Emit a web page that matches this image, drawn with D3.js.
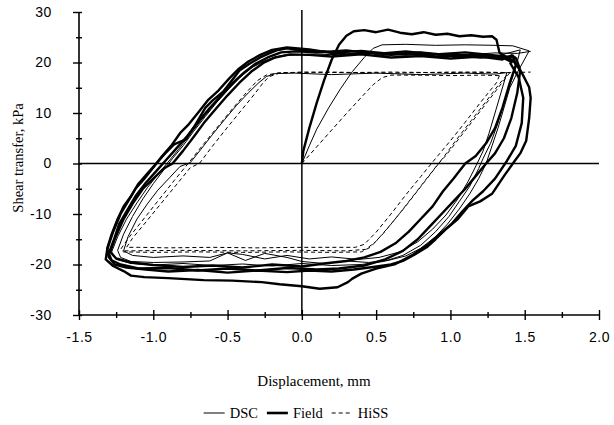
<!DOCTYPE html>
<html>
<head>
<meta charset="utf-8">
<script src="https://cdn.jsdelivr.net/npm/d3@7"></script>
<style>
  body { margin: 0; background: #fff; }
  svg { display: block; }
</style>
</head>
<body>
<div id="wrapper"></div>
<script>
// Tick values
const xTicks = [-1.5, -1.0, -0.5, 0.0, 0.5, 1.0, 1.5, 2.0];
const yTicks = [-30, -20, -10, 0, 10, 20, 30];
const xMinorTicks = [-1.25, -0.75, -0.25, 0.25, 0.75, 1.25, 1.75];
const yMinorTicks = [-25, -15, -5, 5, 15, 25];
const seriesNames = ["DSC", "Field", "HiSS"];

// Field (thick line): first loading then cycles
const fieldInitial = [[0,0],[0.01,2.5],[0.05,7],[0.1,12],[0.15,16.5],[0.2,20.5],[0.25,23.5],[0.3,25.3],[0.35,26.2],[0.42,26.4],[0.5,26.0],[0.58,26.5],[0.66,25.9],[0.74,25.6],[0.82,26.0],[0.9,25.5],[0.98,25.7],[1.06,25.2],[1.14,25.4],[1.22,25.1],[1.28,25.2],[1.31,24.5],[1.33,22.0],[1.38,21.0]];
const fieldLoop1 = [[1.42,20.5],[1.48,18],[1.53,15.1],[1.54,13],[1.53,9],[1.51,4.5],[1.47,2],[1.42,0],[1.36,-2.5],[1.28,-6],[1.2,-7.5],[1.12,-8.5],[1.05,-11],[0.97,-13],[0.9,-15],[0.84,-16.6],[0.76,-18],[0.68,-19.3],[0.6,-20],[0.48,-20.5],[0.35,-21],[0.2,-21.4],[0.05,-21.2],[-0.1,-21.5],[-0.3,-21.2],[-0.5,-21.6],[-0.7,-21.1],[-0.9,-21.4],[-1.05,-21],[-1.18,-20.6],[-1.26,-20],[-1.3,-18.5],[-1.31,-16.8],[-1.28,-14],[-1.24,-11],[-1.2,-8.5],[-1.15,-6.5],[-1.1,-4],[-1.04,-2],[-0.98,0],[-0.92,2],[-0.86,3.8],[-0.78,4.8],[-0.72,7.5],[-0.65,11],[-0.6,12.5],[-0.53,14.2],[-0.47,16.5],[-0.42,18.4],[-0.35,19.8],[-0.28,21],[-0.22,21.8],[-0.17,22.4],[-0.1,22.8],[0,22.4],[0.15,22.2],[0.3,21.6],[0.45,22.0],[0.6,21.5],[0.75,21.8],[0.9,21.2],[1.05,21.4],[1.2,21.0],[1.32,21.2],[1.42,20.5]];
const fieldLoop2 = [[1.40,20],[1.46,17],[1.49,13],[1.48,8],[1.44,3.5],[1.38,0.5],[1.3,-3],[1.22,-5.5],[1.15,-7.3],[1.08,-9.5],[1.01,-11.9],[0.92,-14.2],[0.84,-16.2],[0.74,-18.2],[0.63,-19.9],[0.5,-20.8],[0.4,-21.8],[0.34,-22.8],[0.31,-23.5],[0.24,-24.5],[0.12,-24.8],[0,-24.3],[-0.15,-23.9],[-0.27,-23.5],[-0.47,-23.2],[-0.66,-23.1],[-0.9,-22.7],[-1.06,-22.5],[-1.15,-22.2],[-1.2,-21.3],[-1.27,-20.3],[-1.32,-19.0],[-1.31,-17],[-1.27,-13.5],[-1.22,-10],[-1.17,-7.5],[-1.12,-5],[-1.06,-3],[-1.0,-0.8],[-0.94,1.5],[-0.88,3.5],[-0.82,6],[-0.76,7.8],[-0.7,10],[-0.63,12.6],[-0.56,14.5],[-0.49,16.8],[-0.43,18.6],[-0.36,20.2],[-0.28,21.5],[-0.2,22.5],[-0.1,23],[0.05,22.6],[0.2,21.9],[0.4,22.3],[0.6,21.7],[0.8,22],[1.0,21.4],[1.2,21.5],[1.35,21],[1.42,20]];
const fieldLoop3 = [[1.42,21.5],[1.44,19.5],[1.4,16],[1.35,11],[1.3,7],[1.24,4],[1.17,1.5],[1.1,0],[1.02,-3],[0.95,-5.5],[0.88,-8.5],[0.8,-11],[0.72,-13.5],[0.63,-15.8],[0.53,-17.5],[0.42,-18.6],[0.3,-19.3],[0.15,-19.8],[0,-20.4],[-0.2,-20],[-0.4,-20.6],[-0.6,-20.2],[-0.8,-20.5],[-1.0,-20.1],[-1.15,-19.6],[-1.25,-18.8],[-1.29,-17.5],[-1.26,-15],[-1.2,-11],[-1.14,-8],[-1.07,-5],[-1.0,-3],[-0.93,-1],[-0.87,0],[-0.8,2.5],[-0.73,5.2],[-0.66,8],[-0.58,10.8],[-0.5,13.5],[-0.42,16],[-0.34,18.2],[-0.26,19.9],[-0.18,21],[-0.08,21.6],[0.05,21.5],[0.2,21.2],[0.4,21.6],[0.6,21],[0.8,21.3],[1.0,20.8],[1.2,21.2],[1.35,20.6],[1.42,21.5]];
const fieldLoop4 = [[1.44,21],[1.47,18.5],[1.45,14],[1.41,9],[1.36,5],[1.3,2],[1.24,0],[1.17,-2.5],[1.1,-5],[1.02,-7.5],[0.94,-10],[0.86,-12.5],[0.78,-15],[0.68,-17.3],[0.56,-19],[0.42,-20.2],[0.25,-20.8],[0.1,-21],[-0.1,-20.7],[-0.3,-21.2],[-0.5,-20.8],[-0.7,-21.2],[-0.9,-20.7],[-1.1,-20.8],[-1.22,-20],[-1.28,-19.2],[-1.3,-17.8],[-1.27,-15.5],[-1.23,-12],[-1.18,-9.5],[-1.12,-6.5],[-1.05,-3.8],[-0.98,-1.5],[-0.92,0.5],[-0.85,2.8],[-0.77,5.5],[-0.69,8.5],[-0.62,11],[-0.55,13.2],[-0.47,15.8],[-0.39,18],[-0.31,19.8],[-0.23,21],[-0.14,22],[-0.04,22.2],[0.1,22],[0.3,22.4],[0.5,21.7],[0.7,22.2],[0.9,21.6],[1.1,22],[1.3,21.4],[1.44,21]];

// DSC (thin line)
const dscInitial = [[0,0],[0.05,3.5],[0.1,6.8],[0.18,11],[0.26,14.8],[0.34,18.2],[0.42,21],[0.48,22.8],[0.54,23.5],[0.7,23.6],[0.9,23.4],[1.1,23.5],[1.3,23.4],[1.42,23.3],[1.53,22.3]];
const dscLoop1 = [[1.53,22.3],[1.45,18],[1.4,15],[1.36,11],[1.32,7],[1.28,3.5],[1.24,0],[1.19,-3],[1.13,-6],[1.06,-9],[0.98,-12],[0.9,-14.5],[0.8,-16.8],[0.7,-18.3],[0.58,-19.2],[0.45,-19.6],[0.3,-19.3],[0.15,-19.8],[0,-19.4],[-0.1,-18.6],[-0.25,-17.8],[-0.38,-19.2],[-0.5,-17.7],[-0.62,-19.3],[-0.8,-19.5],[-1.0,-19.6],[-1.15,-19.4],[-1.22,-18.6],[-1.24,-17.2],[-1.2,-14],[-1.14,-10.5],[-1.07,-7],[-1.0,-4],[-0.93,-1.3],[-0.87,1],[-0.8,3.5],[-0.73,6.3],[-0.65,9.3],[-0.57,12.2],[-0.49,14.8],[-0.41,17.2],[-0.33,19.1],[-0.25,20.3],[-0.16,21.2],[-0.05,21.5],[0.1,21.7],[0.3,21.5],[0.5,21.9],[0.7,21.4],[0.9,21.8],[1.1,21.5],[1.3,21.9],[1.45,21.8],[1.54,22.2]];
const dscLoop2 = [[1.38,18],[1.34,14],[1.3,10],[1.26,6],[1.22,2.5],[1.18,0],[1.12,-3.5],[1.05,-7],[0.97,-10.2],[0.88,-13],[0.78,-15.5],[0.66,-17.5],[0.52,-18.6],[0.38,-19],[0.2,-18.5],[0.05,-18.9],[-0.1,-18.2],[-0.25,-18.9],[-0.4,-18],[-0.5,-17.7],[-0.62,-18.6],[-0.8,-18.3],[-1.0,-18.6],[-1.14,-18.2],[-1.2,-17.3],[-1.17,-14.5],[-1.11,-11],[-1.04,-8],[-0.97,-5.3],[-0.89,-2.8],[-0.82,-0.6],[-0.75,0.2],[-0.68,2.8],[-0.6,5.8],[-0.52,8.7],[-0.44,11.5],[-0.36,14],[-0.29,16],[-0.24,17.2],[-0.18,17.8],[-0.05,17.9],[0.2,17.6],[0.5,17.9],[0.8,17.6],[1.1,17.9],[1.3,17.7],[1.38,18]];
const dscLoop3 = [[1.47,22.5],[1.44,19],[1.4,15.5],[1.36,12],[1.32,8],[1.27,4],[1.22,1],[1.19,-1],[1.13,-4.5],[1.06,-7.5],[0.99,-10.5],[0.9,-13.5],[0.8,-16.2],[0.68,-18.2],[0.55,-19.4],[0.4,-20],[0.2,-20.2],[0,-19.8],[-0.2,-20.3],[-0.4,-19.9],[-0.6,-20.2],[-0.8,-19.8],[-1.0,-20.1],[-1.15,-19.8],[-1.25,-19],[-1.28,-17.5],[-1.24,-14.5],[-1.18,-11],[-1.11,-7.8],[-1.04,-4.8],[-0.97,-2.2],[-0.9,0.3],[-0.83,2.8],[-0.76,5.5],[-0.68,8.5],[-0.6,11.3],[-0.52,14],[-0.44,16.5],[-0.36,18.6],[-0.28,20],[-0.19,21],[-0.09,21.6],[0.1,21.4],[0.3,21.9],[0.5,21.3],[0.7,21.7],[0.9,21.2],[1.1,21.6],[1.3,21.2],[1.47,22.5]];

// HiSS (dashed line)
const hissInitial = [[0,0],[0.1,3.3],[0.2,6.6],[0.3,9.9],[0.4,13.1],[0.48,15.6],[0.54,17],[0.6,17.5],[0.8,17.5],[1.0,17.4],[1.2,17.5],[1.33,17.4]];
const hissLoop1 = [[1.33,17.4],[1.31,16],[1.2,12],[1.1,8.2],[1.0,4.5],[0.9,1],[0.8,-2.6],[0.7,-6.2],[0.6,-10],[0.5,-13.6],[0.42,-16],[0.36,-16.6],[0.2,-16.6],[0,-16.6],[-0.3,-16.7],[-0.6,-16.6],[-0.9,-16.7],[-1.1,-16.6],[-1.18,-16.6],[-1.14,-14.8],[-1.05,-11.6],[-0.95,-8],[-0.85,-4.4],[-0.75,-0.8],[-0.69,0],[-0.6,3.5],[-0.5,7.2],[-0.4,10.8],[-0.32,13.7],[-0.26,16],[-0.22,17.2],[-0.15,17.9],[0,18.1],[0.3,18],[0.6,18.1],[0.9,18],[1.2,18.1],[1.4,18],[1.54,18.1]];
const hissLoop2 = [[1.4,18],[1.36,16.5],[1.27,13],[1.17,9.2],[1.07,5.4],[0.97,1.6],[0.92,0],[0.85,-2.6],[0.75,-6.4],[0.65,-10.2],[0.55,-13.8],[0.46,-16.6],[0.4,-17.5],[0.2,-17.6],[-0.1,-17.5],[-0.4,-17.6],[-0.7,-17.5],[-1.0,-17.6],[-1.2,-17.5],[-1.22,-17],[-1.16,-14.5],[-1.06,-10.8],[-0.96,-7.1],[-0.86,-3.4],[-0.76,0.2],[-0.66,3.9],[-0.56,7.5],[-0.46,11.1],[-0.36,14.5],[-0.3,16.4],[-0.24,17.5],[-0.15,18],[0.2,18.1],[0.6,17.9],[1.0,18.1],[1.4,18]];
const hissLoop3 = [[1.38,17.5],[1.33,15.8],[1.24,12.3],[1.14,8.5],[1.04,4.7],[0.96,1.5],[0.9,-0.8],[0.8,-4.6],[0.7,-8.4],[0.6,-12],[0.5,-15.4],[0.43,-17],[0.3,-17.3],[0,-17.2],[-0.4,-17.3],[-0.8,-17.2],[-1.2,-17.3]];

async function drawChart() {
  const dimensions = {
    width: 614,
    height: 425,
    margins: { top: 12, right: 15, bottom: 110, left: 79 },
  };
  dimensions.boundedWidth =
    dimensions.width - dimensions.margins.left - dimensions.margins.right;
  dimensions.boundedHeight =
    dimensions.height - dimensions.margins.top - dimensions.margins.bottom;

  const sansFont = "'Liberation Sans', Arial, sans-serif";
  const serifFont = "'Liberation Serif', 'Times New Roman', serif";

  const wrapper = d3
    .select("#wrapper")
    .append("svg")
    .attr("width", dimensions.width)
    .attr("height", dimensions.height);

  const bounds = wrapper
    .append("g")
    .attr("transform", `translate(${dimensions.margins.left}, ${dimensions.margins.top})`);

  // Scales
  const xScale = d3.scaleLinear().domain([-1.5, 2.0]).range([0, dimensions.boundedWidth]);
  const yScale = d3.scaleLinear().domain([-30, 30]).range([dimensions.boundedHeight, 0]);

  // Zero lines
  bounds.append("line")
    .attr("x1", xScale(0)).attr("x2", xScale(0))
    .attr("y1", -2).attr("y2", dimensions.boundedHeight)
    .attr("stroke", "#000").attr("stroke-width", 1.5);
  bounds.append("line")
    .attr("x1", 0).attr("x2", dimensions.boundedWidth)
    .attr("y1", yScale(0)).attr("y2", yScale(0))
    .attr("stroke", "#000").attr("stroke-width", 1.5);

  // Data lines
  const lineGenerator = d3.line()
    .x((d) => xScale(d[0]))
    .y((d) => yScale(d[1]));

  const hissPaths = [hissInitial, hissLoop1, hissLoop2, hissLoop3];
  const dscPaths = [dscInitial, dscLoop1, dscLoop2, dscLoop3];
  const fieldPaths = [fieldInitial, fieldLoop1, fieldLoop2, fieldLoop3, fieldLoop4];

  bounds.append("g").selectAll("path").data(hissPaths).enter().append("path")
    .attr("d", lineGenerator)
    .attr("fill", "none").attr("stroke", "#000")
    .attr("stroke-width", 1).attr("stroke-dasharray", "4,3");

  bounds.append("g").selectAll("path").data(dscPaths).enter().append("path")
    .attr("d", lineGenerator)
    .attr("fill", "none").attr("stroke", "#000")
    .attr("stroke-width", 1);

  bounds.append("g").selectAll("path").data(fieldPaths).enter().append("path")
    .attr("d", lineGenerator)
    .attr("fill", "none").attr("stroke", "#000")
    .attr("stroke-width", 2.4).attr("stroke-linejoin", "round");

  // Axes
  const tickFormat = (d) => d.toFixed(1);

  const xAxis = bounds.append("g")
    .attr("transform", `translate(0, ${dimensions.boundedHeight})`)
    .call(d3.axisBottom(xScale).tickValues(xTicks).tickSize(5).tickPadding(12).tickFormat(tickFormat));
  xAxis.selectAll(".tick line").attr("y1", -5);

  const xMinor = bounds.append("g")
    .attr("transform", `translate(0, ${dimensions.boundedHeight})`)
    .call(d3.axisBottom(xScale).tickValues(xMinorTicks).tickSize(3).tickFormat(""));
  xMinor.selectAll(".tick line").attr("y1", -3);

  const yAxis = bounds.append("g")
    .call(d3.axisLeft(yScale).tickValues(yTicks).tickSize(6).tickPadding(21).tickFormat((d) => String(d)));
  yAxis.selectAll(".tick line").attr("x1", 3);

  const yMinor = bounds.append("g")
    .call(d3.axisLeft(yScale).tickValues(yMinorTicks).tickSize(3).tickFormat(""));
  yMinor.selectAll(".tick line").attr("x1", 3);

  bounds.selectAll(".domain").remove();

  // Solid axis lines
  bounds.append("line").attr("x1", 0).attr("x2", dimensions.boundedWidth)
    .attr("y1", dimensions.boundedHeight).attr("y2", dimensions.boundedHeight)
    .attr("stroke", "#000").attr("stroke-width", 1.6);
  bounds.append("line").attr("x1", 0).attr("x2", 0)
    .attr("y1", 0).attr("y2", dimensions.boundedHeight)
    .attr("stroke", "#000").attr("stroke-width", 1.6);

  bounds.selectAll(".tick line").attr("stroke", "#000").attr("stroke-width", 1.4);
  bounds.selectAll(".tick text")
    .attr("fill", "#000")
    .style("font-family", sansFont)
    .style("font-size", "14px")
    .style("letter-spacing", "0.6px");

  // Labels
  wrapper.append("text")
    .attr("x", 314)
    .attr("y", 386)
    .attr("text-anchor", "middle")
    .style("font-family", serifFont)
    .style("font-size", "15px")
    .text("Displacement, mm");

  wrapper.append("text")
    .attr("transform", `translate(23, 158) rotate(-90)`)
    .attr("text-anchor", "middle")
    .style("font-family", serifFont)
    .style("font-size", "14.5px")
    .text("Shear transfer, kPa");

  // Legend
  const legendStyles = [
    { width: 1, dash: null },
    { width: 2.6, dash: null },
    { width: 1, dash: "4,3" },
  ];
  const legend = wrapper.append("g").attr("transform", "translate(0, 413)");
  const lineLength = 21;
  let cursor = 0;
  const items = seriesNames.map((name, i) => {
    const g = legend.append("g");
    g.append("line")
      .attr("x1", 0).attr("x2", lineLength)
      .attr("y1", 0).attr("y2", 0)
      .attr("stroke", "#000")
      .attr("stroke-width", legendStyles[i].width)
      .attr("stroke-dasharray", legendStyles[i].dash);
    const t = g.append("text")
      .attr("x", lineLength + 5)
      .attr("y", 5)
      .style("font-family", serifFont)
      .style("font-size", "14.5px")
      .text(name);
    const w = lineLength + 5 + t.node().getComputedTextLength();
    g.attr("transform", `translate(${cursor}, 0)`);
    cursor += w + 9;
    return g;
  });
  const legendWidth = cursor - 9;
  legend.attr("transform", `translate(${296 - legendWidth / 2}, 413)`);
}

drawChart();
</script>
</body>
</html>
